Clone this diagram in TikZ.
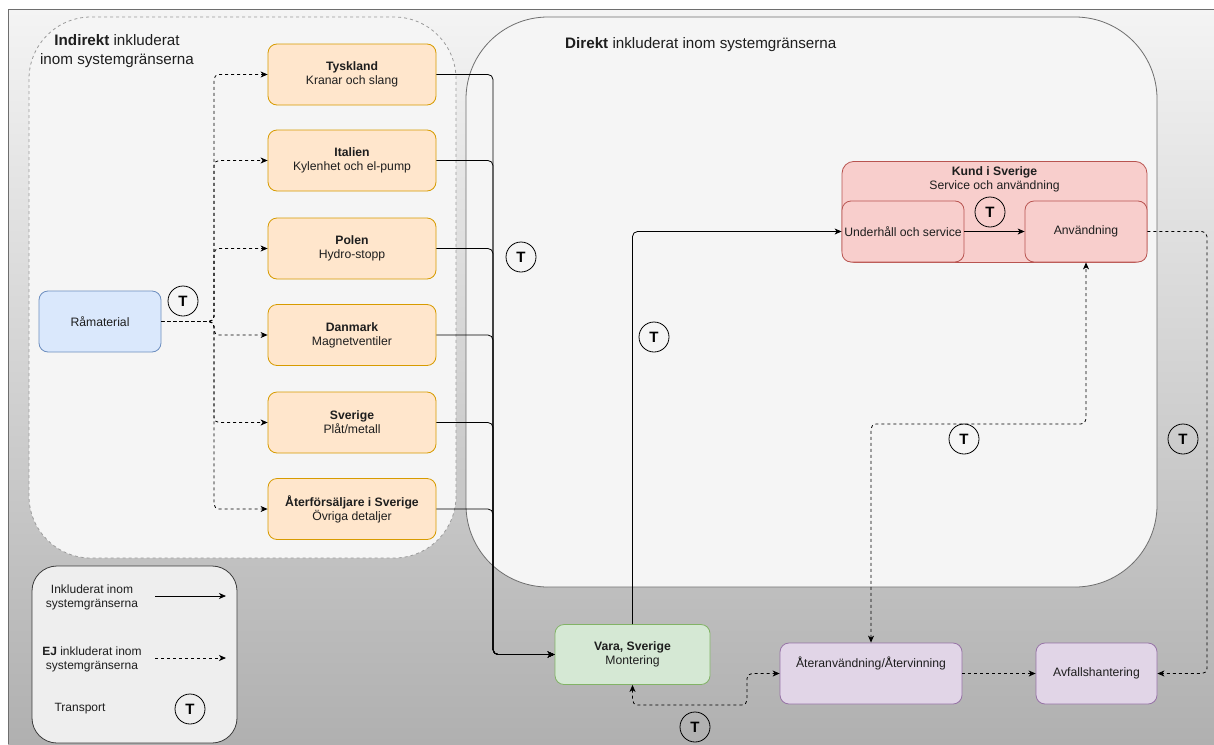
\documentclass[tikz,border=0pt]{standalone}
\usepackage{fontspec}
\setmainfont{Liberation Sans}
\usetikzlibrary{arrows.meta}
\definecolor{bgtop}{RGB}{244,244,244}
\definecolor{bgbot}{RGB}{176,176,176}
\definecolor{contfill}{RGB}{245,245,245}
\definecolor{contline}{RGB}{110,110,110}
\definecolor{dashline}{RGB}{155,155,155}
\definecolor{orfill}{RGB}{255,230,204}
\definecolor{orline}{RGB}{215,155,0}
\definecolor{blfill}{RGB}{218,232,252}
\definecolor{blline}{RGB}{108,142,191}
\definecolor{grfill}{RGB}{213,232,212}
\definecolor{grline}{RGB}{130,179,102}
\definecolor{rdfill}{RGB}{248,206,204}
\definecolor{rdline}{RGB}{184,84,80}
\definecolor{pufill}{RGB}{225,213,231}
\definecolor{puline}{RGB}{150,115,166}
\definecolor{txt}{RGB}{30,30,30}
\definecolor{legfill}{RGB}{238,238,238}
\definecolor{legline}{RGB}{60,60,60}
\tikzset{
  box/.style={draw, rounded corners=9pt, minimum width=168pt, minimum height=61pt, inner sep=2pt, align=center, text=txt, font=\fontsize{12.2}{14}\selectfont, line width=0.8pt},
  orbox/.style={box, fill=orfill, draw=orline},
  tcirc/.style={circle, draw=black, line width=0.8pt, minimum size=30pt, inner sep=0pt, font=\bfseries\fontsize{15}{15}\selectfont},
  link/.style={line width=0.8pt, rounded corners=5pt, -{Stealth[length=7pt,width=6pt,inset=2pt]}},
  dlink/.style={link, dash pattern=on 3pt off 3pt},
  title/.style={text=txt, align=center, font=\fontsize{15.2}{19}\selectfont, inner sep=0pt},
  legtext/.style={text=txt, align=center, font=\fontsize{12}{14}\selectfont, inner sep=0pt}
}
\begin{document}
\begin{tikzpicture}[x=1pt,y=-1pt]
\useasboundingbox (0,0) rectangle (1214,744);
% background
\shade[top color=bgtop, bottom color=bgbot] (8,9) rectangle (1214,744);
\draw[contline, line width=0.8pt] (1214,9) -- (8,9) -- (8,744);
% containers
\draw[dashline, fill=contfill, line width=0.8pt, dash pattern=on 3pt off 3pt, rounded corners=62pt] (29,17) rectangle (456,558);
\draw[contline, fill=contfill, line width=0.8pt, rounded corners=82pt] (466,17) rectangle (1157,587);
\node[title] (tind) at (117,51.5) {\textbf{Indirekt} inkluderat\\inom systemgränserna};
\node[title, anchor=west] (tdir) at (565,45) {\textbf{Direkt} inkluderat inom systemgränserna};
% raw material
\node[box, fill=blfill, draw=blline, minimum width=122pt] (ram) at (100,321.5) {Råmaterial};
% suppliers
\node[orbox] (tys) at (352,74.5) {\textbf{Tyskland}\\Kranar och slang};
\node[orbox] (ita) at (352,160.5) {\textbf{Italien}\\Kylenhet och el-pump};
\node[orbox] (pol) at (352,248.5) {\textbf{Polen}\\Hydro-stopp};
\node[orbox] (dan) at (352,335) {\textbf{Danmark}\\Magnetventiler};
\node[orbox] (sve) at (352,422.5) {\textbf{Sverige}\\Plåt/metall};
\node[orbox] (ate) at (352,509) {\textbf{Återförsäljare i Sverige}\\Övriga detaljer};
% assembly
\node[box, fill=grfill, draw=grline, minimum width=155pt, minimum height=60pt] (vara) at (632.5,654.5) {\textbf{Vara, Sverige}\\Montering};
% customer
\node[box, fill=rdfill, draw=rdline, minimum width=305pt, minimum height=101pt, rounded corners=12pt, anchor=north] (kund) at (994.5,161) {};
\node[text=txt, align=center, font=\fontsize{12.2}{14}\selectfont, inner sep=0pt] (kundt) at (994.5,179.5) {\textbf{Kund i Sverige}\\Service och användning};
\node[box, fill=rdfill, draw=rdline, minimum width=122pt] (und) at (903,231.5) {Underhåll och service};
\node[box, fill=rdfill, draw=rdline, minimum width=122pt] (anv) at (1086,231.5) {Användning};
% end of life
\node[box, fill=pufill, draw=puline, minimum width=182pt, text depth=23pt] (ater) at (871,673.5) {Återanvändning/Återvinning};
\node[box, fill=pufill, draw=puline, minimum width=121pt] (avf) at (1096.5,673.5) {Avfallshantering};
% coordinates
\coordinate (jr) at (214,321.5);
\coordinate (jv) at (493,654.5);
\coordinate (ja) at (1207,673.5);
\coordinate (k1) at (1086,424);
\coordinate (k2) at (747,705);
% dashed from raw material
\foreach \n in {tys,ita,pol,dan,sve,ate}{
  \draw[dlink] (ram.east) -- (jr) |- (\n.west);
}
% solid to assembly
\foreach \n in {tys,ita,pol,dan,sve,ate}{
  \draw[link] (\n.east) -| (jv) -- (vara.west);
}
\draw[link] (vara.north) |- (und.west);
\draw[link, rounded corners=0pt] (und.east) -- (anv.west);
\draw[dlink] (anv.east) -| (ja) -- (avf.east);
\draw[dlink, {Stealth[length=7pt,width=6pt,inset=2pt]}-{Stealth[length=7pt,width=6pt,inset=2pt]}] (ater.north) |- (k1) -- (anv.south);
\draw[dlink] (ater.east) -- (avf.west);
\draw[dlink, {Stealth[length=7pt,width=6pt,inset=2pt]}-{Stealth[length=7pt,width=6pt,inset=2pt]}] (vara.south) |- (k2) |- (ater.west);
% transport markers
\node[tcirc] (t1) at (183,301) {T};
\node[tcirc] (t2) at (521,257) {T};
\node[tcirc] (t3) at (654,337) {T};
\node[tcirc] (t4) at (990,212) {T};
\node[tcirc] (t5) at (964,439) {T};
\node[tcirc] (t6) at (1183,439) {T};
\node[tcirc] (t7) at (695,727) {T};
% legend
\node[draw=legline, fill=legfill, line width=0.8pt, rounded corners=25pt, minimum width=205pt, minimum height=177pt, inner sep=0pt] (leg) at (134.5,654.5) {};
\node[legtext] (l1) at (92,597) {Inkluderat inom\\systemgränserna};
\node[legtext] (l2) at (92,659) {\textbf{EJ} inkluderat inom\\systemgränserna};
\node[legtext] (l3) at (80,709) {Transport};
\coordinate (a1s) at (155,596);
\coordinate (a1e) at (226,596);
\coordinate (a2s) at (155,658);
\coordinate (a2e) at (226,658);
\draw[link] (a1s) -- (a1e);
\draw[dlink] (a2s) -- (a2e);
\node[tcirc] (t8) at (190,709) {T};
\end{tikzpicture}
\end{document}
